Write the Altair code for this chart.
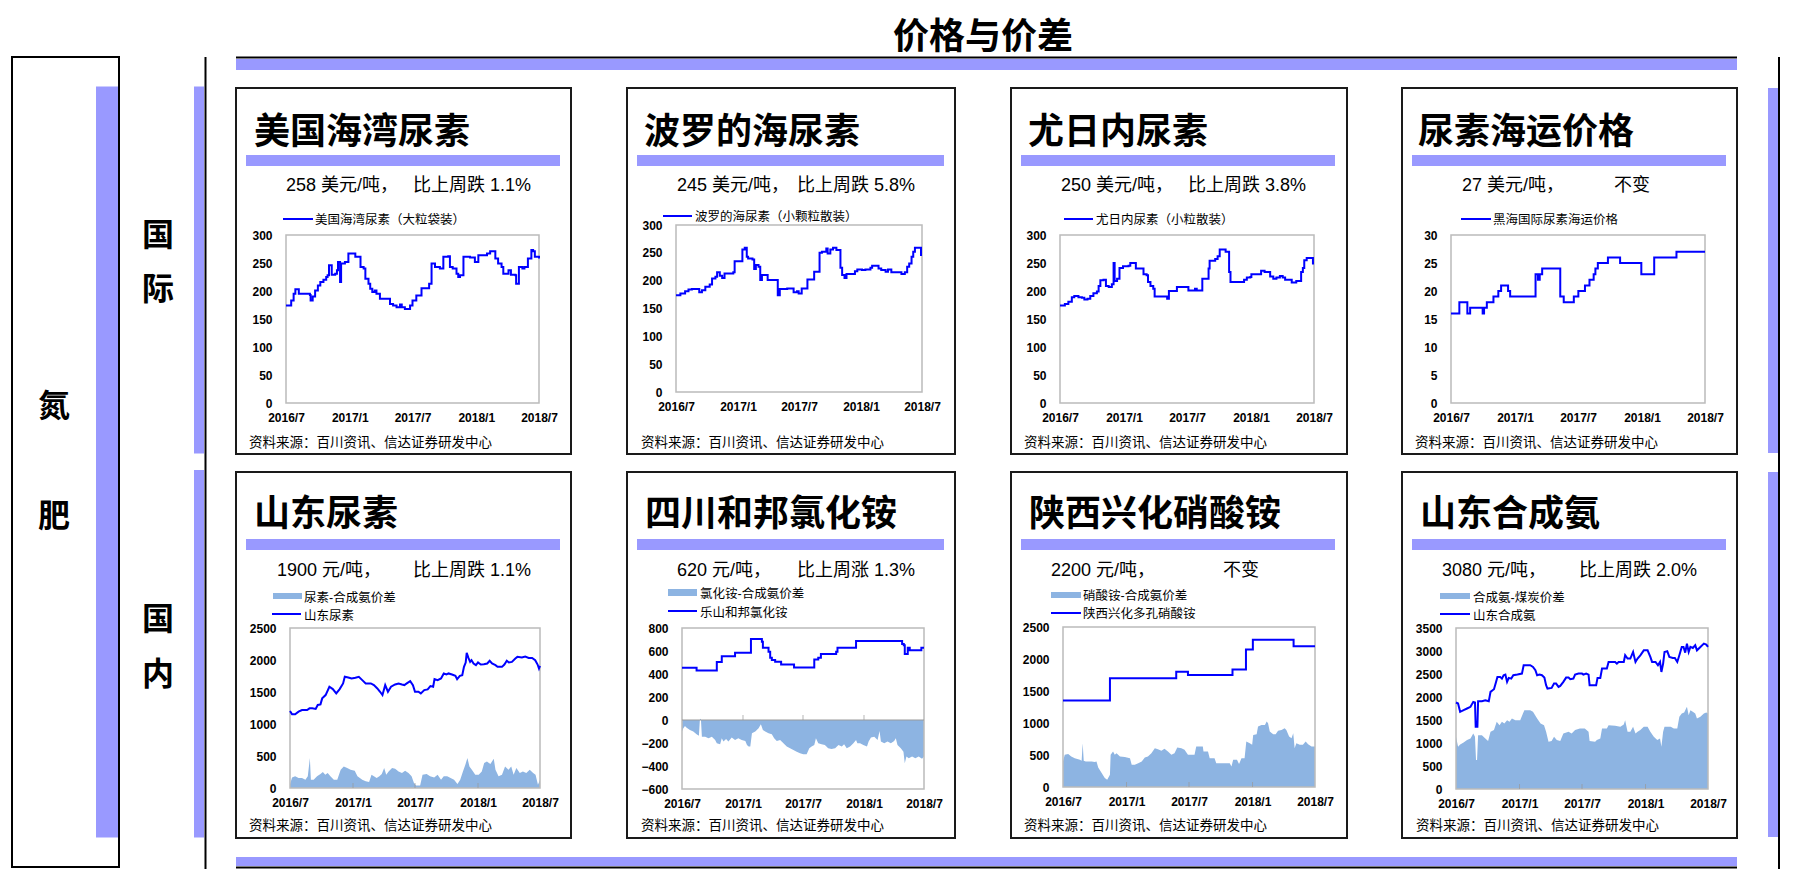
import altair as alt
import pandas as pd

# ---------------- data ----------------
gulf_dates = ["2016/07/01","2016/07/13","2016/07/16","2016/07/23","2016/07/28","2016/08/02","2016/08/07","2016/09/08","2016/09/10","2016/09/16",
              "2016/09/23","2016/10/01","2016/10/08","2016/10/17","2016/10/25","2016/10/29","2016/11/02","2016/11/07","2016/11/10","2016/11/20",
              "2016/11/25","2016/11/28","2016/12/04","2016/12/07","2016/12/18","2016/12/28","2017/01/12","2017/01/17","2017/01/23","2017/02/01",
              "2017/02/10","2017/02/15","2017/02/24","2017/03/01","2017/03/07","2017/03/14","2017/03/19","2017/03/29","2017/04/17","2017/04/27",
              "2017/05/06","2017/05/16","2017/05/26","2017/05/31","2017/06/09","2017/06/24","2017/07/01","2017/07/12","2017/07/22","2017/07/27",
              "2017/08/10","2017/08/18","2017/08/25","2017/09/04","2017/09/18","2017/09/28","2017/10/12","2017/10/17","2017/10/25","2017/11/05",
              "2017/11/10","2017/11/15","2017/11/25","2017/12/14","2017/12/28","2018/01/07","2018/02/01","2018/02/10","2018/02/20","2018/02/25",
              "2018/03/05","2018/03/15","2018/03/20","2018/03/30","2018/04/04","2018/04/11","2018/04/24","2018/04/26","2018/05/04","2018/05/14",
              "2018/05/20","2018/05/30","2018/06/09","2018/06/14","2018/06/19","2018/07/01"]
gulf_vals = [174,174,183,195,203,203,195,193,183,190,
             201,210,216,220,225,228,246,246,229,231,
             237,252,216,249,252,267,267,261,261,243,
             240,222,213,204,198,201,195,186,186,177,
             174,171,176,171,168,174,183,192,192,205,
             205,213,249,243,240,261,262,243,240,231,
             225,228,261,260,252,264,267,271,271,258,
             249,243,231,231,237,229,228,213,243,240,
             243,258,273,271,261,258]

baltic_dates = ["2016/07/01","2016/07/14","2016/07/28","2016/08/07","2016/08/17","2016/09/08","2016/09/16","2016/09/26","2016/10/09","2016/10/16",
                "2016/10/26","2016/10/31","2016/11/08","2016/11/15","2016/11/22","2016/12/18","2016/12/22","2017/01/14","2017/01/21","2017/01/27",
                "2017/01/31","2017/02/13","2017/02/18","2017/02/23","2017/03/03","2017/03/08","2017/03/13","2017/03/30","2017/04/29","2017/05/05",
                "2017/05/27","2017/06/15","2017/06/25","2017/06/30","2017/07/09","2017/07/26","2017/08/15","2017/08/31","2017/09/07","2017/09/20",
                "2017/09/24","2017/10/02","2017/10/10","2017/10/20","2017/11/01","2017/11/06","2017/11/13","2017/11/19","2017/12/14","2017/12/21",
                "2018/01/04","2018/01/14","2018/01/29","2018/02/03","2018/02/22","2018/03/02","2018/03/15","2018/03/22","2018/04/01","2018/05/01",
                "2018/05/11","2018/05/18","2018/05/24","2018/05/31","2018/06/05","2018/06/10","2018/06/28","2018/07/01"]
baltic_vals = [174,177,181,184,185,179,183,189,193,204,
               207,215,209,205,213,215,235,256,259,243,
               240,238,221,228,225,201,210,201,174,185,
               186,179,181,177,186,202,216,250,252,258,
               249,256,259,255,223,210,205,212,217,220,
               219,220,223,227,222,219,216,220,215,212,
               215,225,231,243,252,259,246,246]

yuzhny_dates = ["2016/07/01","2016/07/15","2016/07/25","2016/08/04","2016/08/11","2016/08/23","2016/09/02","2016/09/09","2016/09/18","2016/09/26",
                "2016/10/05","2016/10/15","2016/10/20","2016/10/25","2016/11/03","2016/11/10","2016/11/18","2016/11/27","2016/12/02","2016/12/05",
                "2016/12/12","2016/12/19","2016/12/29","2017/01/14","2017/01/19","2017/02/04","2017/02/26","2017/03/07","2017/03/11","2017/03/18",
                "2017/03/26","2017/03/30","2017/05/05","2017/05/10","2017/06/02","2017/07/05","2017/07/24","2017/07/29","2017/08/14","2017/09/01",
                "2017/09/04","2017/09/20","2017/09/27","2017/10/03","2017/10/20","2017/10/30","2017/11/03","2017/12/12","2017/12/20","2017/12/30",
                "2018/01/02","2018/01/30","2018/02/09","2018/02/25","2018/03/06","2018/03/15","2018/03/25","2018/04/02","2018/04/09","2018/04/28",
                "2018/05/11","2018/05/25","2018/05/30","2018/06/03","2018/06/10","2018/06/28","2018/07/01"]
yuzhny_vals = [174,177,181,189,191,189,188,185,186,191,
               196,199,209,219,220,209,207,212,250,218,
               222,241,244,245,250,240,230,228,216,209,
               204,190,186,200,207,201,204,201,222,240,
               254,257,262,274,270,234,216,220,224,225,
               230,236,234,226,222,224,227,224,220,215,
               218,234,241,255,259,249,249]

freight_dates = ["2016/07/01","2016/07/25","2016/08/17","2016/08/25","2016/09/30","2016/10/04","2016/10/12","2016/10/31","2016/11/14","2016/11/22",
                 "2016/12/12","2016/12/18","2017/03/01","2017/03/08","2017/03/13","2017/03/20","2017/05/11","2017/05/21","2017/06/19","2017/07/02",
                 "2017/07/21","2017/08/03","2017/08/15","2017/08/20","2017/08/27","2017/09/25","2017/10/30","2017/12/30","2018/02/05","2018/04/10",
                 "2018/07/01"]
freight_vals = [16,18,16,17,16,17,18,19,20,21,
                20,19,23,22,23,24,19,18,19,20,
                21,22,23,24,25,26,25,23,26,27,
                27]

sd_urea_dates = ["2016/07/01","2016/07/07","2016/07/16","2016/07/26","2016/08/05","2016/08/20","2016/08/27","2016/09/04","2016/09/14","2016/09/20",
                 "2016/09/28","2016/10/03","2016/10/13","2016/10/24","2016/11/03","2016/11/13","2016/11/23","2016/12/03","2016/12/08","2016/12/18",
                 "2016/12/28","2017/01/08","2017/01/18","2017/01/28","2017/02/07","2017/02/22","2017/03/03","2017/03/13","2017/03/21","2017/03/28",
                 "2017/04/05","2017/04/13","2017/04/22","2017/05/04","2017/05/14","2017/05/24","2017/05/31","2017/06/07","2017/06/17","2017/06/25",
                 "2017/07/01","2017/07/11","2017/07/18","2017/07/28","2017/08/07","2017/08/15","2017/08/23","2017/08/27","2017/09/05","2017/09/15",
                 "2017/09/23","2017/10/01","2017/10/07","2017/10/17","2017/10/27","2017/11/01","2017/11/09","2017/11/16","2017/11/21","2017/11/26",
                 "2017/11/29","2017/12/04","2017/12/09","2017/12/13","2017/12/19","2017/12/26","2018/01/01","2018/01/09","2018/01/18","2018/01/28",
                 "2018/02/04","2018/02/11","2018/02/21","2018/02/27","2018/03/12","2018/03/19","2018/03/26","2018/04/01","2018/04/10","2018/04/20",
                 "2018/04/26","2018/05/09","2018/05/19","2018/05/29","2018/06/08","2018/06/17","2018/06/24","2018/06/28","2018/07/01"]
sd_urea_vals = [1203,1151,1151,1193,1219,1219,1245,1245,1235,1297,
                1307,1400,1452,1582,1546,1478,1546,1634,1738,1727,
                1712,1722,1738,1686,1634,1634,1608,1556,1504,1452,
                1608,1504,1582,1618,1634,1618,1608,1634,1670,1608,
                1504,1504,1478,1530,1541,1592,1582,1701,1686,1712,
                1790,1774,1790,1774,1753,1701,1753,1764,1893,1961,
                2111,2033,1971,1997,1945,1919,1961,1929,1935,1945,
                1987,1945,1919,1893,1893,1929,1987,1961,1971,2023,
                2049,2038,2054,2033,2033,1997,1929,1867,1909]

sd_spread_dates = ["2016/07/01","2016/07/07","2016/07/16","2016/07/26","2016/08/05","2016/08/15","2016/08/22","2016/08/28","2016/08/31","2016/09/08",
                   "2016/09/18","2016/09/28","2016/10/05","2016/10/12","2016/10/19","2016/10/27","2016/11/06","2016/11/16","2016/11/26","2016/12/05",
                   "2016/12/15","2016/12/25","2017/01/06","2017/01/14","2017/01/28","2017/02/07","2017/02/17","2017/02/24","2017/03/03","2017/03/11",
                   "2017/03/19","2017/03/26","2017/04/02","2017/04/08","2017/04/15","2017/04/25","2017/05/04","2017/05/14","2017/05/24","2017/06/02",
                   "2017/06/12","2017/06/21","2017/06/28","2017/07/04","2017/07/16","2017/07/23","2017/08/04","2017/08/14","2017/08/26","2017/09/05",
                   "2017/09/15","2017/09/23","2017/10/03","2017/10/13","2017/10/23","2017/11/02","2017/11/10","2017/11/18","2017/11/25","2017/12/01",
                   "2017/12/07","2017/12/14","2017/12/24","2018/01/03","2018/01/12","2018/01/19","2018/01/27","2018/02/06","2018/02/16","2018/02/21",
                   "2018/03/02","2018/03/12","2018/03/21","2018/03/31","2018/04/08","2018/04/15","2018/04/23","2018/05/03","2018/05/12","2018/05/22",
                   "2018/06/01","2018/06/11","2018/06/18","2018/06/25","2018/07/01"]
sd_spread_vals = [60,166,182,156,156,130,182,467,130,130,
                  182,218,249,207,233,182,130,130,285,337,
                  311,285,270,182,130,104,93,207,182,156,
                  182,218,311,207,259,311,301,259,233,270,
                  233,182,78,41,41,207,218,182,166,207,
                  130,182,182,156,130,62,130,259,363,467,
                  337,285,207,207,259,389,415,374,456,285,
                  182,207,337,285,337,207,311,233,259,233,
                  285,233,207,52,130]

nh4cl_dates = ["2016/07/01","2016/08/14","2016/10/14","2016/10/29","2016/12/08","2017/01/25","2017/02/27","2017/03/02","2017/03/19","2017/03/24",
               "2017/03/29","2017/04/08","2017/04/26","2017/06/04","2017/08/04","2017/08/16","2017/08/24","2017/10/09","2017/10/13","2017/12/08",
               "2018/04/26","2018/05/01","2018/05/04","2018/05/13","2018/05/19","2018/06/23","2018/07/01"]
nh4cl_vals = [455,430,505,555,585,705,680,628,593,541,
              521,506,483,457,526,541,573,593,628,686,
              660,651,573,628,607,628,628]

nh4cl_spread_dates = ["2016/07/01","2016/07/05","2016/07/10","2016/07/15","2016/07/25","2016/08/04","2016/08/14","2016/08/21","2016/08/24","2016/08/27",
                      "2016/08/30","2016/09/09","2016/09/19","2016/09/29","2016/10/09","2016/10/14","2016/10/24","2016/10/29","2016/11/03","2016/11/11",
                      "2016/11/18","2016/11/28","2016/12/08","2016/12/18","2016/12/28","2017/01/08","2017/01/13","2017/01/18","2017/01/23","2017/01/28",
                      "2017/02/07","2017/02/17","2017/02/24","2017/03/02","2017/03/09","2017/03/19","2017/03/29","2017/04/05","2017/04/13","2017/04/23",
                      "2017/05/03","2017/05/13","2017/05/23","2017/06/02","2017/06/12","2017/06/22","2017/07/02","2017/07/12","2017/07/20","2017/07/27",
                      "2017/08/04","2017/08/09","2017/08/16","2017/08/26","2017/09/05","2017/09/15","2017/09/25","2017/10/06","2017/10/16","2017/10/26",
                      "2017/11/02","2017/11/10","2017/11/20","2017/11/30","2017/12/08","2017/12/12","2017/12/20","2017/12/30","2018/01/10","2018/01/15",
                      "2018/01/22","2018/02/01","2018/02/11","2018/02/17","2018/02/21","2018/03/03","2018/03/13","2018/03/23","2018/04/02","2018/04/07",
                      "2018/04/12","2018/04/22","2018/04/30","2018/05/04","2018/05/09","2018/05/16","2018/05/26","2018/06/05","2018/06/15","2018/06/25",
                      "2018/07/01"]
nh4cl_spread_vals = [-101,-72,-52,-67,-87,-101,-124,-136,5,10,
                     -145,-145,-159,-145,-174,-203,-211,-159,-188,-165,
                     -188,-153,-174,-159,-174,-182,-217,-231,-231,-116,
                     -101,-72,-38,-87,-101,-116,-124,-159,-182,-174,
                     -203,-231,-246,-260,-275,-289,-298,-298,-246,-231,
                     -217,-159,-203,-211,-217,-246,-252,-246,-217,-231,
                     -211,-246,-231,-203,-174,-203,-203,-217,-231,-188,
                     -153,-145,-174,-95,-188,-203,-188,-203,-182,-159,
                     -217,-246,-275,-376,-318,-333,-318,-333,-318,-338,
                     -318]

an_dates = ["2016/07/01","2016/11/14","2017/05/25","2017/06/28","2017/11/04","2017/12/13","2018/01/02","2018/04/30","2018/07/01"]
an_vals = [1350,1700,1800,1750,1835,2150,2300,2200,2200]

an_spread_dates = ["2016/07/01","2016/07/06","2016/07/16","2016/07/25","2016/08/04","2016/08/19","2016/08/24","2016/08/27","2016/08/30","2016/09/05",
                   "2016/09/22","2016/10/01","2016/10/06","2016/10/11","2016/10/21","2016/10/30","2016/11/06","2016/11/14","2016/11/16","2016/11/23",
                   "2016/11/28","2016/12/03","2016/12/13","2016/12/27","2017/01/11","2017/01/16","2017/01/25","2017/02/04","2017/02/14","2017/02/23",
                   "2017/03/04","2017/03/14","2017/03/24","2017/04/02","2017/04/12","2017/04/21","2017/05/01","2017/05/11","2017/05/20","2017/05/28",
                   "2017/06/09","2017/06/18","2017/06/28","2017/07/17","2017/07/22","2017/08/10","2017/08/12","2017/08/25","2017/08/30","2017/09/13",
                   "2017/09/18","2017/10/27","2017/11/01","2017/11/06","2017/11/17","2017/11/23","2017/11/30","2017/12/09","2017/12/14","2017/12/24",
                   "2017/12/31","2018/01/03","2018/01/13","2018/01/17","2018/01/27","2018/02/06","2018/02/11","2018/02/15","2018/02/20","2018/03/02",
                   "2018/03/09","2018/03/16","2018/03/26","2018/04/04","2018/04/09","2018/04/17","2018/04/24","2018/04/29","2018/05/03","2018/05/08",
                   "2018/05/18","2018/05/27","2018/06/04","2018/06/11","2018/06/21","2018/07/01"]
an_spread_vals = [400,503,514,477,451,425,410,685,410,400,
                  400,389,400,306,218,140,114,192,503,555,
                  503,529,477,467,451,348,348,373,400,462,
                  477,529,607,591,565,597,555,503,529,617,
                  607,581,503,503,633,633,555,555,451,451,
                  373,373,322,425,425,358,451,451,711,685,
                  659,814,825,944,970,970,1022,996,866,825,
                  825,877,892,918,892,788,762,840,607,685,
                  659,659,711,669,633,633]

nh3_dates = ["2016/07/01","2016/07/07","2016/07/13","2016/07/23","2016/08/02","2016/08/12","2016/08/20","2016/08/25","2016/08/27","2016/09/01",
             "2016/09/03","2016/09/14","2016/09/24","2016/10/04","2016/10/09","2016/10/15","2016/10/19","2016/10/25","2016/10/29","2016/11/06",
             "2016/11/11","2016/11/16","2016/11/21","2016/11/26","2016/12/01","2016/12/08","2016/12/14","2016/12/26","2017/01/08","2017/01/13",
             "2017/02/01","2017/02/09","2017/02/16","2017/02/21","2017/02/28","2017/03/07","2017/03/14","2017/03/19","2017/03/23","2017/04/04",
             "2017/04/11","2017/04/17","2017/04/24","2017/04/29","2017/05/08","2017/05/16","2017/05/23","2017/05/28","2017/06/06","2017/06/11",
             "2017/06/21","2017/07/01","2017/07/05","2017/07/13","2017/07/20","2017/07/23","2017/08/11","2017/08/15","2017/08/23","2017/08/28",
             "2017/09/11","2017/09/16","2017/10/05","2017/10/10","2017/10/15","2017/10/30","2017/11/03","2017/11/10","2017/11/18","2017/11/26",
             "2017/12/03","2017/12/09","2017/12/17","2017/12/27","2018/01/07","2018/01/15","2018/01/20","2018/01/30","2018/02/06","2018/02/12",
             "2018/02/16","2018/02/21","2018/02/25","2018/03/05","2018/03/11","2018/03/21","2018/03/27","2018/04/03","2018/04/09","2018/04/16",
             "2018/04/21","2018/04/26","2018/05/01","2018/05/06","2018/05/11","2018/05/18","2018/05/25","2018/05/30","2018/06/09","2018/06/19",
             "2018/06/26","2018/07/01"]
nh3_vals = [1880,1858,1678,1714,1750,1786,1894,1880,1352,1352,
            1909,1909,1931,1909,2111,2148,2169,2328,2437,2437,
            2400,2473,2487,2328,2415,2400,2473,2487,2509,2690,
            2690,2654,2581,2473,2487,2473,2422,2256,2184,2198,
            2292,2292,2220,2242,2328,2422,2422,2386,2400,2487,
            2509,2509,2487,2509,2487,2256,2256,2415,2415,2618,
            2618,2762,2762,2726,2762,2762,2907,2835,2835,2979,
            2762,2835,2907,3015,3015,2871,2762,2762,2690,2762,
            2545,2726,2979,2994,2871,2849,2849,2762,2907,3088,
            3088,2965,3160,2979,3088,3066,3124,3015,3088,3160,
            3138,3088]

nh3_spread_dates = ["2016/07/01","2016/07/07","2016/07/13","2016/07/23","2016/08/02","2016/08/12","2016/08/20","2016/08/25","2016/08/28","2016/08/31",
                    "2016/09/03","2016/09/14","2016/09/24","2016/10/02","2016/10/09","2016/10/19","2016/10/27","2016/11/04","2016/11/11","2016/11/18",
                    "2016/11/26","2016/12/03","2016/12/10","2016/12/20","2017/01/03","2017/01/11","2017/01/15","2017/02/01","2017/02/09","2017/02/21",
                    "2017/03/03","2017/03/13","2017/03/19","2017/03/26","2017/04/04","2017/04/11","2017/04/19","2017/04/29","2017/05/08","2017/05/23",
                    "2017/06/01","2017/06/11","2017/06/25","2017/07/09","2017/07/20","2017/07/23","2017/08/08","2017/08/13","2017/08/23","2017/08/28",
                    "2017/09/11","2017/09/16","2017/10/05","2017/10/20","2017/10/30","2017/11/03","2017/11/10","2017/11/18","2017/11/26","2017/12/03",
                    "2017/12/09","2017/12/17","2017/12/27","2018/01/07","2018/01/15","2018/01/25","2018/02/04","2018/02/12","2018/02/16","2018/02/21",
                    "2018/02/25","2018/03/15","2018/03/24","2018/04/03","2018/04/09","2018/04/16","2018/04/23","2018/05/01","2018/05/06","2018/05/11",
                    "2018/05/18","2018/05/25","2018/05/30","2018/06/09","2018/06/19","2018/06/26","2018/07/01"]
nh3_spread_vals = [1135,918,969,1012,1063,1099,1208,1135,629,629,
                   1171,1171,1099,1041,1244,1280,1461,1388,1461,1425,
                   1497,1461,1533,1497,1497,1642,1714,1714,1678,1533,
                   1425,1388,1244,1027,1041,1135,1063,1041,1208,1244,
                   1208,1280,1316,1316,1244,1041,1027,1063,1099,1316,
                   1316,1388,1374,1352,1403,1497,1244,1244,1352,1208,
                   1244,1280,1352,1352,1244,1135,1063,1099,918,1244,
                   1352,1352,1316,1316,1569,1642,1663,1786,1605,1714,
                   1678,1642,1533,1569,1642,1663,1642]

tick_months = [(2016, 7), (2017, 1), (2017, 7), (2018, 1), (2018, 7)]
inner_tick_dates = ["2017/01/01", "2017/07/01", "2018/01/01"]

page_title = "价格与价差"
group_chars = ["氮", "肥"]
row_chars = [["国", "际"], ["国", "内"]]
titles = ["美国海湾尿素", "波罗的海尿素", "尤日内尿素", "尿素海运价格",
          "山东尿素", "四川和邦氯化铵", "陕西兴化硝酸铵", "山东合成氨"]
sub_left = ["258 美元/吨，", "245 美元/吨，", "250 美元/吨，", "27 美元/吨，",
            "1900 元/吨，", "620 元/吨，", "2200 元/吨，", "3080 元/吨，"]
sub_right = ["比上周跌 1.1%", "比上周跌 5.8%", "比上周跌 3.8%", "不变",
             "比上周跌 1.1%", "比上周涨 1.3%", "不变", "比上周跌 2.0%"]
line_names = ["美国海湾尿素（大粒袋装）", "波罗的海尿素（小颗粒散装）", "尤日内尿素（小粒散装）", "黑海国际尿素海运价格",
              "山东尿素", "乐山和邦氯化铵", "陕西兴化多孔硝酸铵", "山东合成氨"]
area_names = ["", "", "", "", "尿素-合成氨价差", "氯化铵-合成氨价差", "硝酸铵-合成氨价差", "合成氨-煤炭价差"]
source_text = "资料来源：百川资讯、信达证券研发中心"

# ---------------- styling / layout ----------------
W, H = 1805, 869
FONT = "Liberation Sans, Arial, Noto Sans CJK SC, sans-serif"
PURPLE = "#9999FF"
BLUE = "#0000FF"
FILL = "#8DB4E2"
FRAME = "#BBBBBB"
ONE = pd.DataFrame({"k": [0]})


def DT(y, m, d=1):
    return alt.DateTime(year=y, month=m, date=d)


DOM = [DT(2016, 7, 1), DT(2018, 7, 1)]
TICKS = [DT(y, m) for (y, m) in tick_months]


def frame_df(dates, vals):
    n = min(len(dates), len(vals))
    return pd.DataFrame({"d": dates[:n], "v": vals[:n]})


def text(x, y, s, size, weight="normal", align="left", baseline="alphabetic", color="#000000"):
    return alt.Chart(ONE).mark_text(text=s, fontSize=size, fontWeight=weight, align=align,
                                    baseline=baseline, color=color, font=FONT).encode(
        x=alt.value(x), y=alt.value(y))


def rect(x, y, x2, y2, fill=None, stroke=None, sw=1.0):
    props = {}
    if fill is None:
        props["fill"] = "#FFFFFF"
        props["fillOpacity"] = 0
    else:
        props["fill"] = fill
    if stroke is not None:
        props["stroke"] = stroke
        props["strokeWidth"] = sw
    return alt.Chart(ONE).mark_rect(**props).encode(
        x=alt.value(x), x2=alt.value(x2), y=alt.value(y), y2=alt.value(y2))


def rule(x, y, x2, y2, color, sw):
    return alt.Chart(ONE).mark_rule(color=color, strokeWidth=sw).encode(
        x=alt.value(x), x2=alt.value(x2), y=alt.value(y), y2=alt.value(y2))


def panel(frame, ydom, yvals, line_df, interp, area_df=None, zero=False, inner_ticks=False):
    x0, y0, x1, y1 = frame
    xs = alt.Scale(domain=DOM, range=[x0, x1])
    ys = alt.Scale(domain=ydom, range=[y1, y0])
    xax = alt.Axis(orient="bottom", offset=y1 - H, values=TICKS, format="%Y/%-m",
                   labelFlush=False, labelOverlap=False, ticks=False, tickSize=0, domain=False,
                   grid=False, labelFont=FONT, labelFontSize=12, labelFontWeight="bold",
                   labelColor="#000000", labelPadding=9, title=None)
    yax = alt.Axis(orient="left", offset=-x0, values=yvals, format="d", labelOverlap=False,
                   ticks=False, tickSize=0, domain=False, grid=False, labelFont=FONT,
                   labelFontSize=12, labelFontWeight="bold", labelColor="#000000",
                   labelPadding=14, title=None)
    layers = []
    if area_df is not None:
        layers.append(alt.Chart(area_df).mark_area(color=FILL, opacity=1).encode(
            x=alt.X("d:T", scale=xs, axis=xax), y=alt.Y("v:Q", scale=ys, axis=yax)))
    layers.append(rect(x0, y0, x1, y1, stroke=FRAME, sw=1.5))
    if zero:
        layers.append(alt.Chart(ONE).mark_rule(color="#999999", strokeWidth=1.2).encode(
            x=alt.value(x0), x2=alt.value(x1), y=alt.Y(datum=0, scale=ys, axis=yax)))
    if inner_ticks:
        tdf = pd.DataFrame({"d": inner_tick_dates})
        layers.append(alt.Chart(tdf).mark_tick(orient="vertical", size=5, thickness=1,
                                               color="#999999", yOffset=-2.5).encode(
            x=alt.X("d:T", scale=xs, axis=xax), y=alt.Y(datum=0, scale=ys, axis=yax)))
    layers.append(alt.Chart(line_df).mark_line(color=BLUE, strokeWidth=2, interpolate=interp).encode(
        x=alt.X("d:T", scale=xs, axis=xax), y=alt.Y("v:Q", scale=ys, axis=yax)))
    return alt.layer(*layers)


# ---------------- page decoration ----------------
decor = []
decor.append(rect(236, 59, 1737, 70, fill=PURPLE))
decor.append(rule(236, 57.5, 1737, 57.5, "#000000", 2))
decor.append(rect(236, 857, 1737, 866, fill=PURPLE))
decor.append(rule(236, 867.5, 1737, 867.5, "#000000", 2))
decor.append(rect(96, 86.5, 118, 837.5, fill=PURPLE))
decor.append(rect(12, 57, 119, 867, stroke="#000000", sw=2))
decor.append(rect(194, 86.5, 204, 453.5, fill=PURPLE))
decor.append(rect(194, 470, 204, 837.5, fill=PURPLE))
decor.append(rule(205.5, 57, 205.5, 869, "#000000", 2))
decor.append(rect(1768, 88, 1778, 453, fill=PURPLE))
decor.append(rect(1768, 472, 1778, 837, fill=PURPLE))
decor.append(rule(1779, 57, 1779, 869, "#000000", 2))
decor.append(text(983, 49, page_title, 36, weight="bold", align="center"))
decor.append(text(54, 407, group_chars[0], 32, weight="bold", align="center", baseline="middle"))
decor.append(text(54, 517, group_chars[1], 32, weight="bold", align="center", baseline="middle"))
decor.append(text(158, 236, row_chars[0][0], 32, weight="bold", align="center", baseline="middle"))
decor.append(text(158, 290, row_chars[0][1], 32, weight="bold", align="center", baseline="middle"))
decor.append(text(158, 620, row_chars[1][0], 32, weight="bold", align="center", baseline="middle"))
decor.append(text(158, 675, row_chars[1][1], 32, weight="bold", align="center", baseline="middle"))

# card geometry (pixels)
card_x = [(236, 571), (627, 955), (1011, 1347), (1402, 1737)]
card_y = [(88, 454), (472, 838)]
bar_x = [(246, 560), (637, 944), (1021, 1335), (1412, 1726)]
title_x = [254, 644, 1028, 1418, 254, 645, 1029, 1420]
sub_lx = [286, 677, 1061, 1462, 277, 677, 1051, 1442]
sub_rx = [531, 915, 1306, 1650, 531, 915, 1259, 1697]
leg_line = [(283, 313, 219), (663, 692, 216), (1064, 1093, 219), (1461, 1491, 219),
            (272, 301, 614), (668, 697, 611), (1051, 1081, 613), (1440, 1470, 614)]
leg_text_x = [315, 695, 1096, 1493, 304, 700, 1083, 1473]
leg_line_text_y = [219, 216, 219, 219, 615, 612, 613, 615]
leg_swatch = [None, None, None, None, (273, 302, 593, 599), (668, 697, 589, 596),
              (1051, 1081, 592, 598), (1440, 1470, 593, 599)]
leg_swatch_text_y = [0, 0, 0, 0, 596.5, 592.5, 595, 597]
source_x = [249, 641, 1024, 1415, 249, 641, 1024, 1416]

for i in range(8):
    r, c = divmod(i, 4)
    cx0, cx1 = card_x[c]
    cy0, cy1 = card_y[r]
    decor.append(rect(cx0, cy0, cx1, cy1, stroke="#1A1A1A", sw=2))
    bx0, bx1 = bar_x[c]
    by0 = 155 if r == 0 else 539
    decor.append(rect(bx0, by0, bx1, by0 + 11, fill=PURPLE))
    decor.append(text(title_x[i], 144 if r == 0 else 526, titles[i], 36, weight="bold"))
    sy = 191 if r == 0 else 576
    decor.append(text(sub_lx[i], sy, sub_left[i], 18))
    decor.append(text(sub_rx[i], sy, sub_right[i], 18, align="right"))
    lx0, lx1, ly = leg_line[i]
    decor.append(rule(lx0, ly, lx1, ly, BLUE, 2))
    decor.append(text(leg_text_x[i], leg_line_text_y[i] + 1, line_names[i], 12.5, baseline="middle"))
    if leg_swatch[i] is not None:
        sx0, sx1, sy0, sy1 = leg_swatch[i]
        decor.append(rect(sx0, sy0, sx1, sy1, fill=FILL))
        decor.append(text(leg_text_x[i], leg_swatch_text_y[i] + 1, area_names[i], 12.5, baseline="middle"))
    decor.append(text(source_x[i], (442 if r == 0 else 825) + 1, source_text, 13.5, baseline="middle"))

# ---------------- the eight charts ----------------
v300 = [0, 50, 100, 150, 200, 250, 300]
panels = [
    panel((286, 235, 539, 403), [0, 300], v300, frame_df(gulf_dates, gulf_vals), "step-after"),
    panel((676, 225, 922, 392), [0, 300], v300, frame_df(baltic_dates, baltic_vals), "step-after"),
    panel((1060, 235, 1314, 403), [0, 300], v300, frame_df(yuzhny_dates, yuzhny_vals), "step-after"),
    panel((1451, 235, 1705, 403), [0, 30], [0, 5, 10, 15, 20, 25, 30],
          frame_df(freight_dates, freight_vals), "step-after"),
    panel((290, 628, 540, 788), [0, 2500], [0, 500, 1000, 1500, 2000, 2500],
          frame_df(sd_urea_dates, sd_urea_vals), "linear",
          area_df=frame_df(sd_spread_dates, sd_spread_vals), inner_ticks=True),
    panel((682, 628, 924, 789), [-600, 800], [-600, -400, -200, 0, 200, 400, 600, 800],
          frame_df(nh4cl_dates, nh4cl_vals), "step-after",
          area_df=frame_df(nh4cl_spread_dates, nh4cl_spread_vals), zero=True, inner_ticks=True),
    panel((1063, 627, 1315, 787), [0, 2500], [0, 500, 1000, 1500, 2000, 2500],
          frame_df(an_dates, an_vals), "step-after",
          area_df=frame_df(an_spread_dates, an_spread_vals), inner_ticks=True),
    panel((1456, 628, 1708, 789), [0, 3500], [0, 500, 1000, 1500, 2000, 2500, 3000, 3500],
          frame_df(nh3_dates, nh3_vals), "linear",
          area_df=frame_df(nh3_spread_dates, nh3_spread_vals), inner_ticks=True),
]

chart = alt.layer(*decor, *panels).resolve_scale(
    x="independent", y="independent"
).resolve_axis(
    x="independent", y="independent"
).properties(
    width=W, height=H, padding=0, background="#FFFFFF",
    autosize=alt.AutoSizeParams(type="none")
).configure_view(strokeWidth=0)

chart.save("out.html", embed_options={"renderer": "svg", "actions": False})
